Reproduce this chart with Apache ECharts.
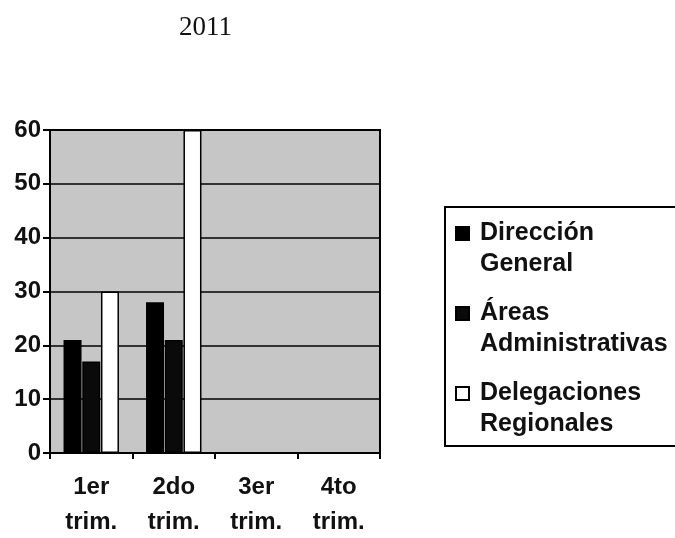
<!DOCTYPE html>
<html>
<head>
<meta charset="utf-8">
<script src="https://cdn.jsdelivr.net/npm/echarts@6/dist/echarts.min.js"></script>
<style>
  html, body { margin: 0; padding: 0; background: #fff; }
  #chart { width: 675px; height: 538px; }
</style>
</head>
<body>
<div id="chart"></div>
<script>
// data
const titleText = "2011";
const categories = ["1er\ntrim.", "2do\ntrim.", "3er\ntrim.", "4to\ntrim."];
const seriesNames = ["Dirección\nGeneral", "Áreas\nAdministrativas", "Delegaciones\nRegionales"];
const direccion = [21, 28, 0, 0];
const areas = [17, 21, 0, 0];
const delegaciones = [30, 60, 0, 0];
const yTicks = { min: 0, max: 60, step: 10 };

const font = "'Liberation Sans', Arial, sans-serif";

const myChart = echarts.init(document.getElementById("chart"), null, { renderer: "canvas" });

// square at top, moveTo at bottom stretches the icon box so the text starts at the square
const legendIcon = "path://M0,0H13V13H0Z M0,44";

let series = [
  { name: seriesNames[0], data: direccion, color: "#000", border: "#000" },
  { name: seriesNames[1], data: areas, color: "#0a0a0a", border: "#000" },
  { name: seriesNames[2], data: delegaciones, color: "#fff", border: "#000" },
].map((s) => ({
  name: s.name,
  type: "bar",
  data: s.data,
  barWidth: 18,
  barGap: "4%",
  itemStyle: { color: s.color, borderColor: s.border, borderWidth: 1.5 },
}));

let option = {
  animation: false,
  backgroundColor: "#fff",
  title: {
    text: titleText,
    left: 174,
    top: 9,
    textStyle: { fontFamily: "'Liberation Serif', 'Times New Roman', serif", fontWeight: "normal", fontSize: 27, color: "#111" },
  },
  legend: {
    orient: "vertical",
    left: 445,
    top: 207,
    padding: [11, 80, 6, 10],
    borderColor: "#000",
    borderWidth: 2,
    itemWidth: 13,
    itemHeight: 44,
    itemGap: 18,
    icon: legendIcon,
    data: seriesNames,
    textStyle: { fontFamily: font, fontWeight: "bold", fontSize: 25, lineHeight: 31, color: "#111", padding: [0, 0, 0, 6] },
  },
  grid: {
    left: 50,
    top: 130,
    width: 330,
    height: 323,
    outerBoundsMode: "none",
    containLabel: false,
    show: true,
    backgroundColor: "#c6c6c6",
    borderColor: "#000",
    borderWidth: 2,
  },
  xAxis: {
    type: "category",
    data: categories,
    axisLine: { lineStyle: { color: "#000", width: 2 } },
    axisTick: { show: true, length: 6, lineStyle: { color: "#000", width: 2 } },
    axisLabel: { color: "#111", fontFamily: font, fontWeight: "bold", fontSize: 24, lineHeight: 35, margin: 17 },
  },
  yAxis: {
    type: "value",
    min: yTicks.min,
    max: yTicks.max,
    interval: yTicks.step,
    axisLine: { show: true, lineStyle: { color: "#000", width: 2 } },
    axisTick: { show: true, length: 7, lineStyle: { color: "#000", width: 2 } },
    axisLabel: { color: "#111", fontFamily: font, fontWeight: "bold", fontSize: 24, margin: 9 },
    splitLine: { show: true, lineStyle: { color: "#000", width: 1.5 } },
  },
  series,
};

option && myChart.setOption(option);
</script>
</body>
</html>
